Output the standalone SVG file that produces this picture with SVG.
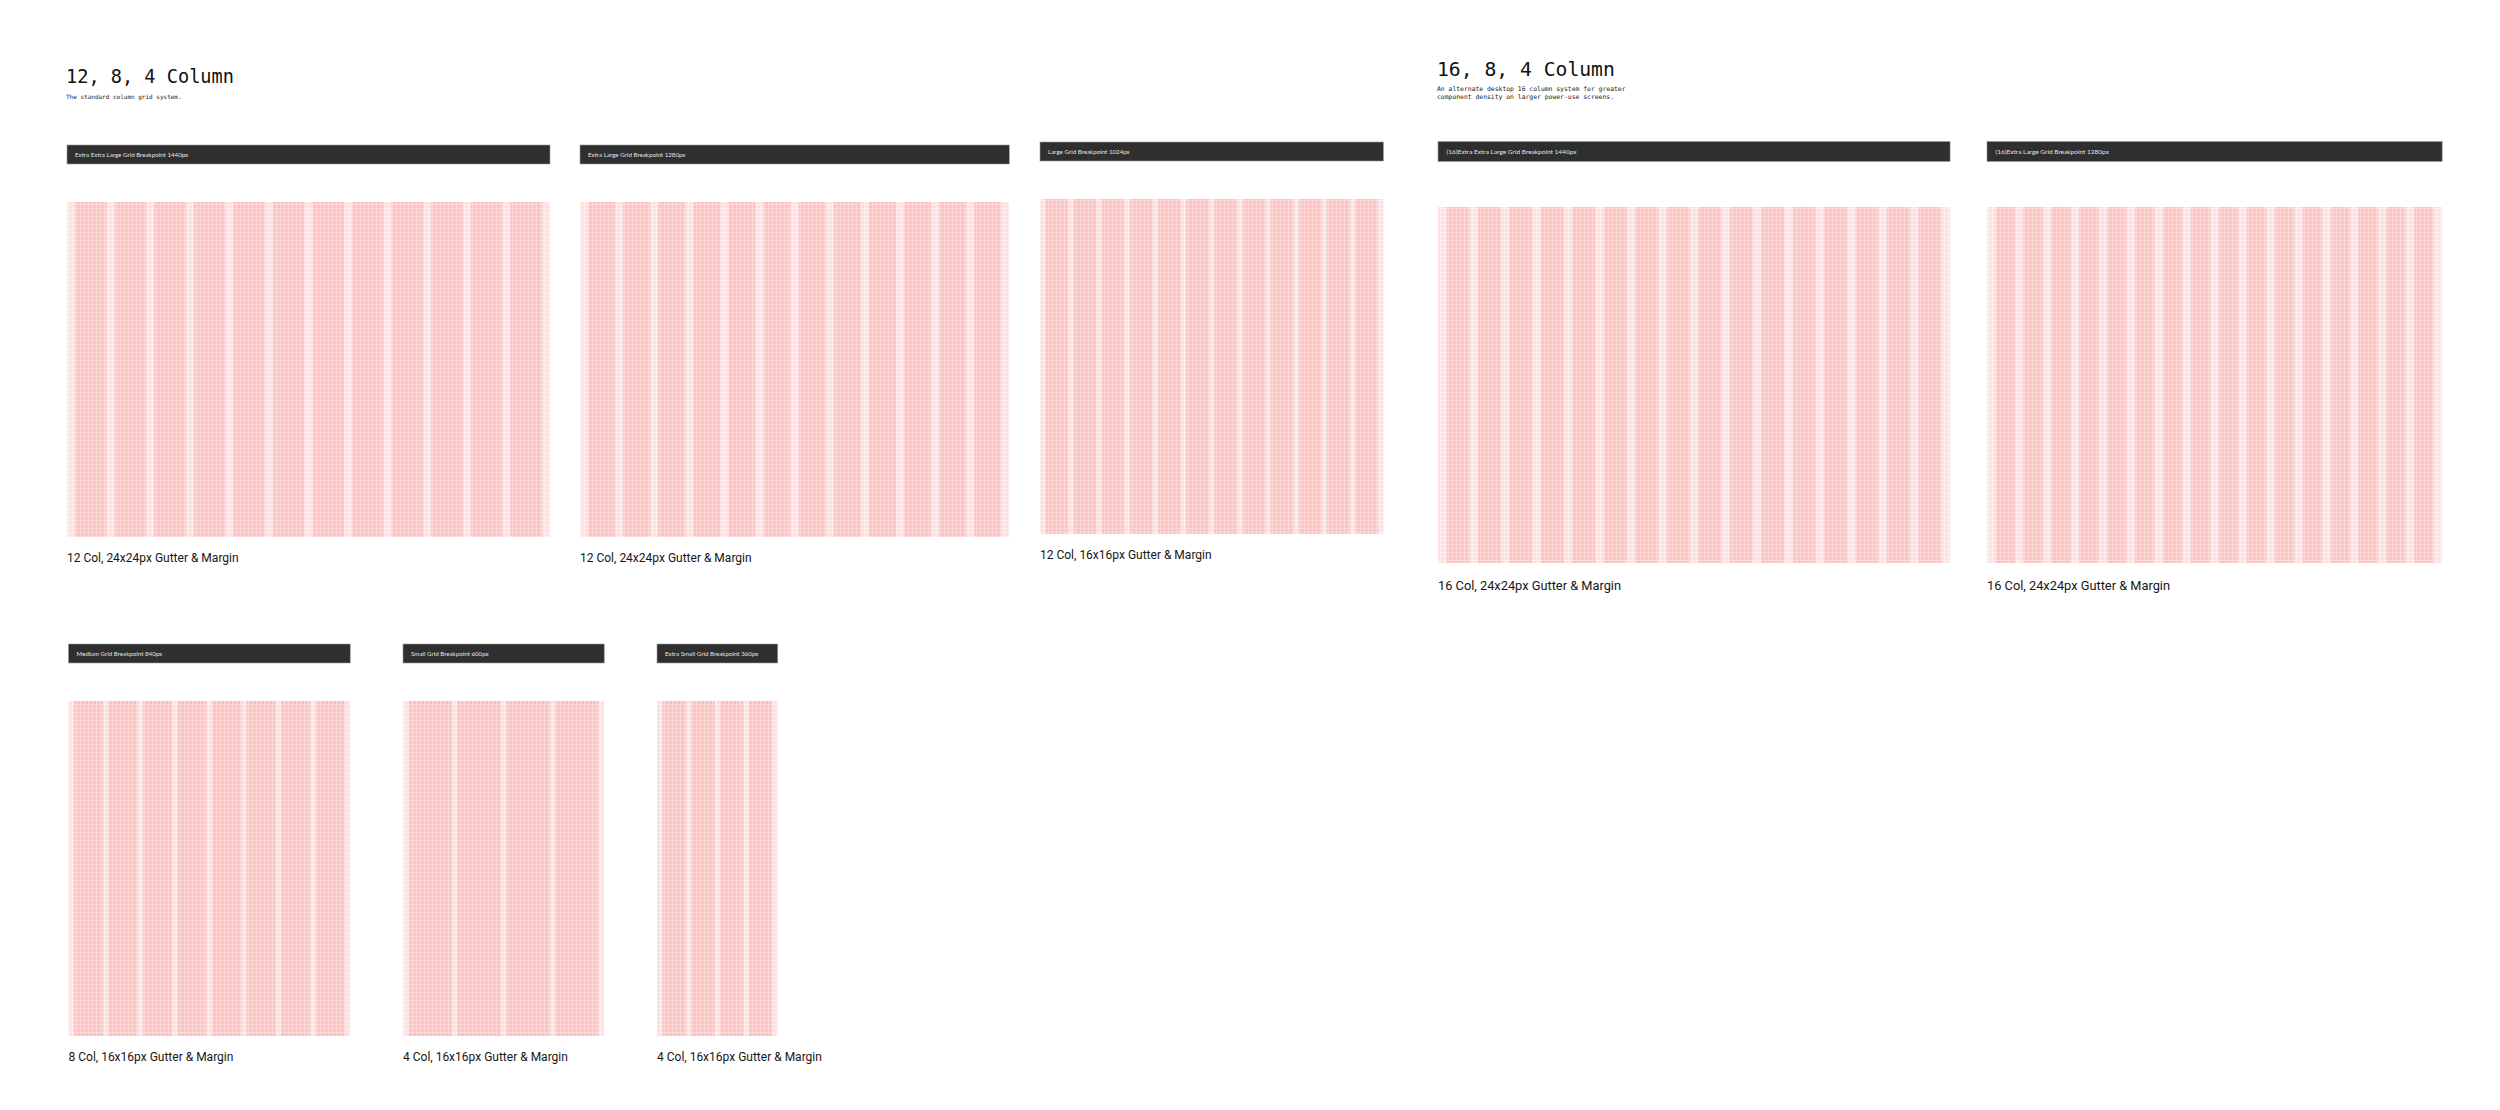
<svg xmlns="http://www.w3.org/2000/svg" width="2500" height="1110" viewBox="0 0 2500 1110">
<style>
.bg{fill:#ffffff}
.bar{fill:#2f2f2f;stroke:#9a9a9a;stroke-width:0.6}
.bartxt{font-family:Lato,"Noto Sans",sans-serif;fill:#e4e4e4;font-size:6.2px}
.bartxt2{font-family:Lato,"Noto Sans",sans-serif;fill:#e4e4e4;font-size:6.5px}
.base{fill:#ffe0e0}
.fine{fill:url(#fine)}
.lbl{font-family:Roboto,"Liberation Sans",sans-serif;fill:#161616;font-size:12px}
.lbl2{font-family:Roboto,"Liberation Sans",sans-serif;fill:#161616;font-size:12.8px}
.title{font-family:"DejaVu Sans Mono","Liberation Mono",monospace;fill:#111;font-size:18.6px}
.title2{font-family:"DejaVu Sans Mono","Liberation Mono",monospace;fill:#111;font-size:19.7px}
.sub{font-family:"DejaVu Sans Mono","Liberation Mono",monospace;fill:#222;font-size:6px}
.sub2{font-family:"DejaVu Sans Mono","Liberation Mono",monospace;fill:#222;font-size:6.4px}
</style>
<defs>
<pattern id="fine" patternUnits="userSpaceOnUse" width="4" height="4">
<rect x="0" y="0" width="4" height="1" fill="#ffffff" fill-opacity="0.38"/>
<rect x="0" y="1" width="1" height="3" fill="#ffffff" fill-opacity="0.38"/>
</pattern>
<pattern id="c1" patternUnits="userSpaceOnUse" x="75.05" y="0" width="39.58" height="10"><rect width="31.53" height="10" fill="#ffc0c0"/></pattern>
<pattern id="c2" patternUnits="userSpaceOnUse" x="588.05" y="0" width="35.1" height="10"><rect width="27.05" height="10" fill="#ffc0c0"/></pattern>
<pattern id="c3" patternUnits="userSpaceOnUse" x="1045.37" y="0" width="28.17" height="10"><rect width="22.8" height="10" fill="#ffc0c0"/></pattern>
<pattern id="c4" patternUnits="userSpaceOnUse" x="1446.53" y="0" width="31.47" height="10"><rect width="22.94" height="10" fill="#ffc0c0"/></pattern>
<pattern id="c5" patternUnits="userSpaceOnUse" x="1995.53" y="0" width="27.92" height="10"><rect width="19.39" height="10" fill="#ffc0c0"/></pattern>
<pattern id="c6" patternUnits="userSpaceOnUse" x="73.87" y="0" width="34.55" height="10"><rect width="29.18" height="10" fill="#ffc0c0"/></pattern>
<pattern id="c7" patternUnits="userSpaceOnUse" x="408.37" y="0" width="48.97" height="10"><rect width="43.6" height="10" fill="#ffc0c0"/></pattern>
<pattern id="c8" patternUnits="userSpaceOnUse" x="662.37" y="0" width="28.84" height="10"><rect width="23.47" height="10" fill="#ffc0c0"/></pattern>
</defs>
<rect class="bg" x="0" y="0" width="2500" height="1110"/>

<g id="heading-12-8-4">
<text class="title" x="66" y="83">12, 8, 4 Column</text>
<text class="sub" x="66" y="98.5">The standard column grid system.</text>
</g>

<g id="heading-16-8-4">
<text class="title2" x="1437" y="75.5">16, 8, 4 Column</text>
<text class="sub2" x="1437" y="91">An alternate desktop 16 column system for greater</text>
<text class="sub2" x="1437" y="99">component density on larger power-use screens.</text>
</g>

<g id="panel-xxl-12">
<rect class="bar" x="67" y="145" width="483" height="19"/>
<text class="bartxt" x="75" y="156.7">Extra Extra Large Grid Breakpoint 1440px</text>
<rect class="base" x="67" y="202" width="483" height="335"/>
<rect x="75.05" y="202" width="466.9" height="335" fill="url(#c1)"/>
<rect class="fine" x="67" y="202" width="483" height="335"/>
<text class="lbl" x="67" y="562">12 Col, 24x24px Gutter &amp; Margin</text>
</g>

<g id="panel-xl-12">
<rect class="bar" x="580" y="145" width="429.3" height="19"/>
<text class="bartxt" x="588" y="156.7">Extra Large Grid Breakpoint 1280px</text>
<rect class="base" x="580" y="202" width="429.3" height="335"/>
<rect x="588.05" y="202" width="413.2" height="335" fill="url(#c2)"/>
<rect class="fine" x="580" y="202" width="429.3" height="335"/>
<text class="lbl" x="580" y="562">12 Col, 24x24px Gutter &amp; Margin</text>
</g>

<g id="panel-l-12">
<rect class="bar" x="1040" y="142" width="343.45" height="19"/>
<text class="bartxt" x="1048" y="153.7">Large Grid Breakpoint 1024px</text>
<rect class="base" x="1040" y="199" width="343.45" height="335"/>
<rect x="1045.37" y="199" width="332.71" height="335" fill="url(#c3)"/>
<rect class="fine" x="1040" y="199" width="343.45" height="335"/>
<text class="lbl" x="1040" y="559">12 Col, 16x16px Gutter &amp; Margin</text>
</g>

<g id="panel-xxl-16">
<rect class="bar" x="1438" y="141.5" width="512.06" height="20"/>
<text class="bartxt2" x="1446.5" y="153.8">(16)Extra Extra Large Grid Breakpoint 1440px</text>
<rect class="base" x="1438" y="207" width="512.06" height="356"/>
<rect x="1446.53" y="207" width="495" height="356" fill="url(#c4)"/>
<rect class="fine" x="1438" y="207" width="512.06" height="356"/>
<text class="lbl2" x="1438" y="590">16 Col, 24x24px Gutter &amp; Margin</text>
</g>

<g id="panel-xl-16">
<rect class="bar" x="1987" y="141.5" width="455.17" height="20"/>
<text class="bartxt2" x="1995.5" y="153.8">(16)Extra Large Grid Breakpoint 1280px</text>
<rect class="base" x="1987" y="207" width="455.17" height="356"/>
<rect x="1995.53" y="207" width="438.1" height="356" fill="url(#c5)"/>
<rect class="fine" x="1987" y="207" width="455.17" height="356"/>
<text class="lbl2" x="1987" y="590">16 Col, 24x24px Gutter &amp; Margin</text>
</g>

<g id="panel-m-8">
<rect class="bar" x="68.5" y="644" width="281.74" height="19"/>
<text class="bartxt" x="76.5" y="655.7">Medium Grid Breakpoint 840px</text>
<rect class="base" x="68.5" y="701" width="281.74" height="335"/>
<rect x="73.87" y="701" width="271" height="335" fill="url(#c6)"/>
<rect class="fine" x="68.5" y="701" width="281.74" height="335"/>
<text class="lbl" x="68.5" y="1061">8 Col, 16x16px Gutter &amp; Margin</text>
</g>

<g id="panel-s-4">
<rect class="bar" x="403" y="644" width="201.24" height="19"/>
<text class="bartxt" x="411" y="655.7">Small Grid Breakpoint 600px</text>
<rect class="base" x="403" y="701" width="201.24" height="335"/>
<rect x="408.37" y="701" width="190.5" height="335" fill="url(#c7)"/>
<rect class="fine" x="403" y="701" width="201.24" height="335"/>
<text class="lbl" x="403" y="1061">4 Col, 16x16px Gutter &amp; Margin</text>
</g>

<g id="panel-xs-4">
<rect class="bar" x="657" y="644" width="120.74" height="19"/>
<text class="bartxt" x="665" y="655.7">Extra Small Grid Breakpoint 360px</text>
<rect class="base" x="657" y="701" width="120.74" height="335"/>
<rect x="662.37" y="701" width="110" height="335" fill="url(#c8)"/>
<rect class="fine" x="657" y="701" width="120.74" height="335"/>
<text class="lbl" x="657" y="1061">4 Col, 16x16px Gutter &amp; Margin</text>
</g>
</svg>
